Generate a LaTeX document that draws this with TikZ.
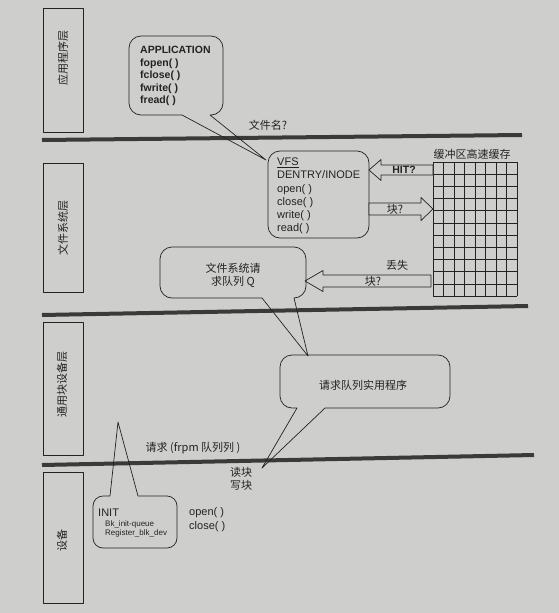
\documentclass[tikz,border=0pt]{standalone}
\usepackage{fontspec}
\setmainfont{Liberation Sans}
\newfontfamily\cjk{Noto Sans CJK SC}
\definecolor{paper}{RGB}{206,206,204}
\definecolor{ink}{RGB}{35,35,35}
\definecolor{barcol}{RGB}{58,58,58}
\begin{document}
\begin{tikzpicture}[x=1pt,y=-1pt,line join=round,
  outl/.style={draw=ink,line width=0.7pt},
  lay/.style={draw=ink,line width=0.7pt},
  thickbar/.style={draw=barcol,line width=4pt},
  gridline/.style={draw=ink,line width=0.6pt},
  txt/.style={text=ink,inner sep=0pt},
  cn/.style={txt,font=\cjk\fontsize{11}{13}\selectfont},
  vlab/.style={txt,rotate=90,font=\cjk\fontsize{11}{12}\selectfont},
  en/.style={txt,font=\fontsize{11}{13}\selectfont}]
\fill[paper] (0,0) rectangle (559,613);
\useasboundingbox (0,0) rectangle (559,613);

% layer separators
\draw[thickbar] (42,140) -- (522,135);
\draw[thickbar] (42,315) -- (528,306);
\draw[thickbar] (42,465) -- (534,455);

% layer label boxes
\draw[lay] (43,8) rectangle (83,132);
\node[vlab] (l1) at (63,58) {应用程序层};
\draw[lay] (43,163) rectangle (83,292);
\node[vlab] (l2) at (63,228) {文件系统层};
\draw[lay] (43,322) rectangle (83,455);
\node[vlab] (l3) at (62,384) {通用块设备层};
\draw[lay] (43,472) rectangle (83,603);
\node[vlab] (l4) at (62,540) {设备};

% APPLICATION bubble
\draw[outl] (141,36) -- (211,36) arc[start angle=-90,end angle=0,radius=12]
  -- (223,103) arc[start angle=0,end angle=90,radius=12]
  -- (210,115) -- (266,160) -- (182,115) -- (141,115)
  arc[start angle=90,end angle=180,radius=12]
  -- (129,48) arc[start angle=180,end angle=270,radius=12] -- cycle;
\node[txt,anchor=north west,align=left,font=\fontsize{10.5}{12.6}\selectfont\bfseries] (app) at (140,46)
  {APPLICATION\\fopen( )\\fclose( )\\fwrite( )\\fread( )};
\node[cn] (fname) at (268,125) {文件名?};

% VFS box
\node[outl,rounded corners=12pt,minimum width=101pt,minimum height=87pt,inner sep=0pt] (vfs) at (318.5,194.5) {};
\node[txt,anchor=north west,align=left,font=\fontsize{11}{13.1}\selectfont] (vfst) at (277,158)
  {\underline{VFS}\\DENTRY/INODE\\open( )\\close( )\\write( )\\read( )};

% buffer cache grid
\node[cn] (cachelab) at (472,154) {缓冲区高速缓存};
\foreach \i in {0,...,8} \draw[gridline] ({433+\i*10.5},162) -- ({433+\i*10.5},296);
\foreach \j in {0,...,11} \draw[gridline] (433,{162+\j*134/11}) -- (517,{162+\j*134/11});

% block arrows
\draw[outl,fill=paper] (369,170) -- (381,159.5) -- (381,165) -- (433,165) -- (433,175) -- (381,175) -- (381,180.5) -- cycle;
\node[txt,font=\fontsize{10.5}{12}\selectfont\bfseries] (hit) at (404,170) {HIT?};
\draw[outl,fill=paper] (433,209) -- (421,197.5) -- (421,203) -- (369,203) -- (369,215) -- (421,215) -- (421,220.5) -- cycle;
\node[cn] (blk1) at (395,209) {块?};
\draw[outl,fill=paper] (305,281) -- (323,270.5) -- (323,275) -- (431,275) -- (431,287) -- (323,287) -- (323,291.5) -- cycle;
\node[cn] (blk2) at (373,281) {块?};
\node[cn] (lost) at (397,265) {丢失};

% file system request queue bubble
\draw[outl] (172,247) -- (294,247) arc[start angle=-90,end angle=0,radius=12]
  -- (306,286) arc[start angle=0,end angle=90,radius=12]
  -- (308,356) -- (262,298) -- (172,298)
  arc[start angle=90,end angle=180,radius=12]
  -- (160,259) arc[start angle=180,end angle=270,radius=12] -- cycle;
\node[cn,align=center] (fsq) at (233,275.5) {文件系统请\\求队列 Q};

% request queue utility bubble
\draw[outl] (292,355) -- (438,355) arc[start angle=-90,end angle=0,radius=12]
  -- (450,396) arc[start angle=0,end angle=90,radius=12]
  -- (325,408) -- (262,468) -- (297,408) -- (292,408)
  arc[start angle=90,end angle=180,radius=12]
  -- (280,367) arc[start angle=180,end angle=270,radius=12] -- cycle;
\node[cn] (util) at (363,385) {请求队列实用程序};

\node[cn] (req) at (193,448) {请求 (frpm 队列列 )};
\node[cn,align=center] (rw) at (241,479) {读块\\写块};

% INIT bubble
\draw[outl] (103,496) -- (110,496) -- (118,422) -- (138,496) -- (167,496)
  arc[start angle=-90,end angle=0,radius=10]
  -- (177,538) arc[start angle=0,end angle=90,radius=10]
  -- (103,548) arc[start angle=90,end angle=180,radius=10]
  -- (93,506) arc[start angle=180,end angle=270,radius=10] -- cycle;
\node[en,anchor=west] (init) at (98,513) {INIT};
\node[txt,anchor=north west,align=left,font=\fontsize{8}{9.5}\selectfont] (initf) at (105,520)
  {Bk\_init-queue\\Register\_blk\_dev};
\node[txt,anchor=north west,align=left,font=\fontsize{11}{14}\selectfont] (oc) at (189,507)
  {open( )\\close( )};
\end{tikzpicture}
\end{document}
